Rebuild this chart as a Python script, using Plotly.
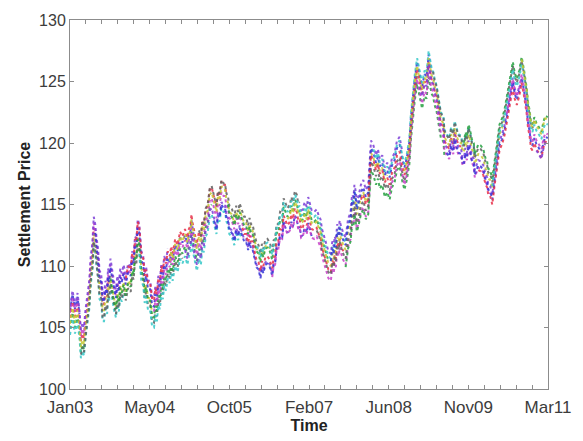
import pandas as pd
import plotly.graph_objects as go

# ---- central settlement price path ----
path_points = [
    ("2003-01-19", 105.5), ("2003-02-04", 106.8), ("2003-02-19", 105.6), ("2003-03-07", 106.6),
    ("2003-03-19", 105.2), ("2003-03-28", 103.6), ("2003-04-07", 104.2), ("2003-04-16", 103.8),
    ("2003-04-25", 105.2), ("2003-05-07", 106.4), ("2003-05-19", 107.6), ("2003-05-28", 109.6),
    ("2003-06-07", 110.6), ("2003-06-16", 112.8), ("2003-06-25", 112.2), ("2003-07-04", 111.0),
    ("2003-07-13", 110.2), ("2003-07-22", 108.4), ("2003-08-01", 108.2), ("2003-08-10", 106.6),
    ("2003-08-19", 106.6), ("2003-08-28", 107.6), ("2003-09-07", 107.2), ("2003-09-13", 108.6),
    ("2003-09-19", 108.2), ("2003-09-28", 109.4), ("2003-10-07", 108.6), ("2003-10-19", 107.6),
    ("2003-11-01", 106.9), ("2003-11-10", 108.0), ("2003-11-19", 107.4), ("2003-11-28", 108.6),
    ("2003-12-07", 108.2), ("2003-12-19", 108.9), ("2004-01-01", 108.0), ("2004-01-16", 109.0),
    ("2004-02-01", 108.7), ("2004-02-10", 110.0), ("2004-02-19", 109.7), ("2004-02-28", 111.2),
    ("2004-03-07", 111.0), ("2004-03-16", 112.6), ("2004-03-25", 112.2), ("2004-04-07", 110.0),
    ("2004-04-19", 109.6), ("2004-04-28", 108.2), ("2004-05-07", 108.7), ("2004-05-19", 107.6),
    ("2004-06-01", 107.6), ("2004-06-13", 106.3), ("2004-06-25", 106.2), ("2004-07-04", 107.2),
    ("2004-07-13", 106.7), ("2004-07-22", 108.0), ("2004-08-01", 107.7), ("2004-08-10", 109.0),
    ("2004-08-19", 108.5), ("2004-08-28", 109.6), ("2004-09-07", 109.2), ("2004-09-19", 110.2),
    ("2004-10-01", 109.8), ("2004-10-10", 110.6), ("2004-10-19", 110.0), ("2004-11-04", 111.2),
    ("2004-11-19", 110.7), ("2004-12-04", 111.8), ("2004-12-19", 111.4), ("2005-01-04", 112.0),
    ("2005-01-19", 111.3), ("2005-01-28", 112.0), ("2005-02-07", 112.3), ("2005-02-13", 113.2),
    ("2005-02-19", 112.6), ("2005-03-04", 111.6), ("2005-03-19", 110.8), ("2005-04-01", 111.8),
    ("2005-04-13", 111.3), ("2005-04-22", 112.6), ("2005-05-01", 112.3), ("2005-05-13", 113.6),
    ("2005-05-25", 113.9), ("2005-06-07", 115.2), ("2005-06-19", 115.4), ("2005-07-04", 114.6),
    ("2005-07-19", 113.8), ("2005-07-28", 115.0), ("2005-08-07", 114.8), ("2005-08-19", 115.9),
    ("2005-09-01", 115.6), ("2005-09-10", 115.6), ("2005-09-19", 114.8), ("2005-09-28", 114.6),
    ("2005-10-07", 113.8), ("2005-10-22", 113.6), ("2005-11-07", 112.9), ("2005-11-19", 113.8),
    ("2005-12-01", 113.3), ("2005-12-10", 114.0), ("2005-12-19", 113.6), ("2005-12-28", 113.4),
    ("2006-01-07", 112.9), ("2006-01-19", 112.9), ("2006-02-01", 112.2), ("2006-02-10", 112.8),
    ("2006-02-19", 112.3), ("2006-02-28", 112.3), ("2006-03-07", 111.8), ("2006-03-16", 111.4),
    ("2006-03-25", 110.8), ("2006-04-07", 110.6), ("2006-04-19", 109.9), ("2006-04-28", 110.7),
    ("2006-05-07", 110.3), ("2006-05-19", 111.0), ("2006-06-01", 111.1), ("2006-06-16", 110.8),
    ("2006-07-01", 110.1), ("2006-07-10", 111.0), ("2006-07-19", 111.1), ("2006-07-28", 112.3),
    ("2006-08-07", 112.3), ("2006-08-19", 113.3), ("2006-09-01", 113.2), ("2006-09-10", 114.4),
    ("2006-09-19", 114.1), ("2006-10-04", 113.6), ("2006-10-19", 113.9), ("2006-10-28", 114.5),
    ("2006-11-07", 114.1), ("2006-11-19", 115.0), ("2006-12-01", 114.7), ("2006-12-10", 114.0),
    ("2006-12-19", 114.1), ("2006-12-28", 113.3), ("2007-01-07", 113.4), ("2007-01-19", 114.0),
    ("2007-02-01", 113.6), ("2007-02-10", 114.4), ("2007-02-19", 114.0), ("2007-03-04", 113.3),
    ("2007-03-19", 113.2), ("2007-04-04", 113.4), ("2007-04-19", 112.8), ("2007-04-28", 112.6),
    ("2007-05-07", 111.8), ("2007-05-19", 111.3), ("2007-06-01", 110.6), ("2007-06-16", 110.0),
    ("2007-07-01", 109.8), ("2007-07-10", 110.8), ("2007-07-19", 110.4), ("2007-07-25", 111.2),
    ("2007-08-01", 110.9), ("2007-08-10", 112.2), ("2007-08-19", 111.8), ("2007-08-25", 112.5),
    ("2007-09-01", 112.1), ("2007-09-16", 111.5), ("2007-10-01", 111.1), ("2007-10-16", 112.6),
    ("2007-11-01", 113.2), ("2007-11-10", 114.6), ("2007-11-19", 114.4), ("2007-11-25", 115.4),
    ("2007-12-01", 115.0), ("2007-12-10", 114.0), ("2007-12-19", 114.4), ("2008-01-04", 115.4),
    ("2008-01-19", 115.8), ("2008-02-04", 115.0), ("2008-02-19", 115.4), ("2008-02-28", 117.6),
    ("2008-03-07", 119.0), ("2008-03-22", 118.6), ("2008-04-07", 117.8), ("2008-04-19", 118.3),
    ("2008-05-01", 117.5), ("2008-05-16", 117.8), ("2008-06-01", 116.8), ("2008-06-16", 117.2),
    ("2008-07-01", 116.6), ("2008-07-16", 117.6), ("2008-08-01", 118.0), ("2008-08-16", 119.0),
    ("2008-09-01", 119.3), ("2008-09-16", 118.2), ("2008-10-01", 117.4), ("2008-10-16", 118.2),
    ("2008-11-01", 119.5), ("2008-11-10", 121.4), ("2008-11-19", 122.7), ("2008-12-04", 124.6),
    ("2008-12-19", 126.0), ("2009-01-04", 124.8), ("2009-01-19", 124.0), ("2009-02-04", 125.0),
    ("2009-02-16", 124.8), ("2009-03-01", 126.6), ("2009-03-10", 125.8), ("2009-03-19", 125.2),
    ("2009-03-28", 125.0), ("2009-04-07", 124.3), ("2009-04-19", 123.8), ("2009-05-01", 122.9),
    ("2009-05-16", 121.6), ("2009-06-01", 121.3), ("2009-06-07", 120.2), ("2009-06-22", 119.8),
    ("2009-07-07", 119.5), ("2009-07-19", 120.4), ("2009-08-01", 119.9), ("2009-08-10", 120.9),
    ("2009-08-19", 120.4), ("2009-09-04", 119.8), ("2009-09-19", 119.7), ("2009-09-28", 119.0),
    ("2009-10-07", 119.0), ("2009-10-16", 119.8), ("2009-10-25", 119.4), ("2009-11-04", 120.4),
    ("2009-11-13", 120.0), ("2009-11-25", 119.2), ("2009-12-07", 118.9), ("2009-12-13", 118.0),
    ("2009-12-19", 118.2), ("2010-01-04", 118.8), ("2010-01-19", 118.7), ("2010-02-04", 118.4),
    ("2010-02-19", 117.6), ("2010-02-28", 117.4), ("2010-03-07", 116.8), ("2010-03-19", 116.7),
    ("2010-04-01", 116.0), ("2010-04-16", 117.6), ("2010-05-01", 119.2), ("2010-05-16", 120.4),
    ("2010-06-01", 120.9), ("2010-06-16", 121.6), ("2010-07-01", 122.7), ("2010-07-19", 124.0),
    ("2010-08-07", 125.5), ("2010-08-19", 124.6), ("2010-09-01", 124.1), ("2010-09-16", 124.8),
    ("2010-10-01", 125.9), ("2010-10-16", 124.8), ("2010-11-01", 123.4), ("2010-11-10", 122.2),
    ("2010-11-19", 121.6), ("2010-11-28", 120.6), ("2010-12-07", 120.4), ("2010-12-19", 121.0),
    ("2011-01-01", 120.5), ("2011-01-16", 120.2), ("2011-02-01", 119.8), ("2011-02-13", 120.6),
    ("2011-02-25", 121.1), ("2011-03-13", 121.0),
]
path_dates = [d for d, _ in path_points]
path_values = [v for _, v in path_points]

# ---- quarterly contracts: expiry dates and spread vs. the central path ----
contract_expiries = [
    "2003-03-20", "2003-06-20", "2003-09-20", "2003-12-20",
    "2004-03-20", "2004-06-20", "2004-09-20", "2004-12-20",
    "2005-03-20", "2005-06-20", "2005-09-20", "2005-12-20",
    "2006-03-20", "2006-06-20", "2006-09-20", "2006-12-20",
    "2007-03-20", "2007-06-20", "2007-09-20", "2007-12-20",
    "2008-03-20", "2008-06-20", "2008-09-20", "2008-12-20",
    "2009-03-20", "2009-06-20", "2009-09-20", "2009-12-20",
    "2010-03-20", "2010-06-20", "2010-09-20", "2010-12-20",
    "2011-03-20", "2011-06-20", "2011-09-20", "2011-12-20",
    "2012-03-20", "2012-06-20", "2012-09-20",
]
contract_spreads = [
    0.9, -0.6, 0.3, -1.1, 0.7, -0.2, 1.2, -0.8, 0.5, -0.4,
    1.0, -1.2, 0.1, 0.6, -0.7, 1.1, -0.9, 0.4, -0.3, 0.8,
    -1.0, 0.2, 1.2, -0.5, 0.6, -1.2, 0.0, 0.9, -0.8, 0.3,
    -0.2, 0.8, -0.6, 1.1, -1.0, 0.5, -0.3, 0.9, -1.1,
]
contract_life_months = 21

line_colors = ["#3535d8", "#25a040", "#e8304a", "#35c8c8",
               "#c840c8", "#c8c832", "#7c3ed8", "#606060"]

x_tick_labels = ["Jan03", "May04", "Oct05", "Feb07", "Jun08", "Nov09", "Mar11"]
axis_start = "2003-01-19"
axis_end = "2011-03-14"

path = pd.DataFrame({"date": pd.to_datetime(path_dates), "value": path_values})

fig = go.Figure()
for i, (exp, spread) in enumerate(zip(contract_expiries, contract_spreads)):
    exp_d = pd.Timestamp(exp)
    start_d = exp_d - pd.DateOffset(months=contract_life_months)
    seg = path[(path["date"] >= start_d) & (path["date"] <= exp_d)]
    if seg.empty:
        continue
    fig.add_trace(go.Scatter(
        x=seg["date"], y=seg["value"] + spread,
        mode="lines",
        line=dict(color=line_colors[i % len(line_colors)], width=2, dash="dot"),
        opacity=0.85,
        showlegend=False,
        hoverinfo="skip",
    ))

# ticks: 31 evenly spaced, every 5th labelled (MATLAB datetick style)
tick_dates = pd.date_range(axis_start, axis_end, periods=31)
tick_text = []
for k in range(31):
    tick_text.append(x_tick_labels[k // 5] if k % 5 == 0 else "")

axis_color = "#8c8c8c"
font_color = "#3c3c3c"

fig.update_layout(
    width=583, height=441,
    margin=dict(l=70, r=24, t=12, b=43),
    paper_bgcolor="white", plot_bgcolor="white",
    font=dict(family="Liberation Sans, Arial, sans-serif", size=16, color=font_color),
)
fig.update_xaxes(
    type="date",
    range=[axis_start, axis_end],
    tickmode="array", tickvals=tick_dates, ticktext=tick_text,
    tickfont=dict(size=17),
    ticklabelstandoff=3,
    ticks="inside", ticklen=4, tickcolor=axis_color,
    showline=True, linecolor=axis_color, linewidth=1, mirror="ticks",
    showgrid=False, zeroline=False,
    title=dict(text="<b>Time</b>", font=dict(size=16, color="#222222"), standoff=0),
)
fig.update_yaxes(
    range=[100, 130], dtick=5, tick0=100,
    tickfont=dict(size=16),
    ticks="inside", ticklen=4, tickcolor=axis_color,
    showline=True, linecolor=axis_color, linewidth=1, mirror="ticks",
    showgrid=False, zeroline=False,
    title=dict(text="<b>Settlement Price</b>", font=dict(size=16, color="#222222"), standoff=4),
)

fig.write_html("out.html")
